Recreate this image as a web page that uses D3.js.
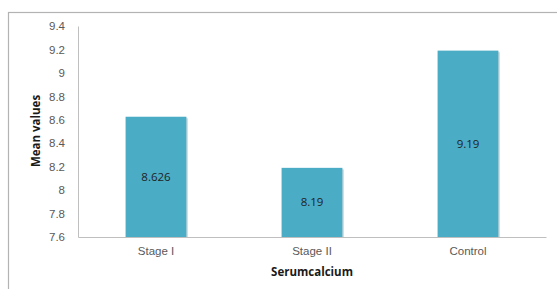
<!DOCTYPE html>
<html>
<head>
<meta charset="utf-8">
<script src="https://cdn.jsdelivr.net/npm/d3@7"></script>
<style>
  body { margin: 0; background: #fff; }
  svg { display: block; font-family: "Open Sans", sans-serif; }
</style>
</head>
<body>
<div id="chart"></div>
<script>
var categories = ["Stage I", "Stage II", "Control"];
var meanValues = [8.626, 8.19, 9.19];
var valueLabels = ["8.626", "8.19", "9.19"];
var yTicks = [7.6, 7.8, 8, 8.2, 8.4, 8.6, 8.8, 9, 9.2, 9.4];

var W = 557, H = 289;
var margin = {top: 26, right: 11, bottom: 52, left: 78},
    width = W - margin.left - margin.right,
    height = H - margin.top - margin.bottom;

var svg = d3.select("#chart").append("svg")
    .attr("width", W)
    .attr("height", H);

// outer frame (cropped on right and bottom)
svg.append("rect")
    .attr("x", 8.5).attr("y", 12.5)
    .attr("width", W + 20).attr("height", H + 20)
    .attr("fill", "none")
    .attr("stroke", "#b3b3b3")
    .attr("stroke-width", 1.2);

var g = svg.append("g")
    .attr("transform", "translate(" + margin.left + "," + margin.top + ")");

var x = d3.scaleBand()
    .domain(categories)
    .range([0, width])
    .paddingInner(0.61)
    .paddingOuter(0.305);

var y = d3.scaleLinear()
    .domain([7.6, 9.4])
    .range([height, 0]);

var yAxis = d3.axisLeft(y)
    .tickValues(yTicks)
    .tickSize(0)
    .tickPadding(13)
    .tickFormat(function(d) { return d3.format("")(+d.toFixed(1)); });

var yG = g.append("g").call(yAxis);
yG.select(".domain").attr("stroke", "#bfbfbf");
yG.selectAll("text").attr("fill", "#595959").style("font-size", "11.5px");

var xAxis = d3.axisBottom(x).tickSize(0).tickPadding(10);
var xG = g.append("g")
    .attr("transform", "translate(0," + height + ")")
    .call(xAxis);
xG.select(".domain").attr("stroke", "#bfbfbf");
xG.selectAll("text").attr("fill", "#595959").style("font-size", "11.5px");

// bar shadows
g.selectAll(".shadow")
    .data(meanValues)
  .enter().append("rect")
    .attr("x", function(d, i) { return x(categories[i]) + 1.5; })
    .attr("y", function(d) { return y(d) + 1.5; })
    .attr("width", x.bandwidth())
    .attr("height", function(d) { return height - y(d) - 1.5; })
    .attr("fill", "#d9d9d9");

g.selectAll(".bar")
    .data(meanValues)
  .enter().append("rect")
    .attr("class", "bar")
    .attr("x", function(d, i) { return x(categories[i]); })
    .attr("y", function(d) { return y(d); })
    .attr("width", x.bandwidth())
    .attr("height", function(d) { return height - y(d); })
    .attr("fill", "#4bacc6");

g.selectAll(".val")
    .data(meanValues)
  .enter().append("text")
    .attr("x", function(d, i) { return x(categories[i]) + x.bandwidth() / 2; })
    .attr("y", function(d) { return (y(d) + height) / 2; })
    .attr("dy", "0.35em")
    .attr("text-anchor", "middle")
    .attr("fill", "#1f1f1f")
    .style("font-size", "11.5px")
    .text(function(d, i) { return valueLabels[i]; });

svg.append("text")
    .attr("x", margin.left + width / 2)
    .attr("y", 276)
    .attr("text-anchor", "middle")
    .attr("fill", "#1a1a1a")
    .style("font-size", "11.5px")
    .style("font-weight", "bold")
    .text("Serumcalcium");

svg.append("text")
    .attr("transform", "translate(40,131) rotate(-90)")
    .attr("text-anchor", "middle")
    .attr("fill", "#1a1a1a")
    .style("font-size", "11.5px")
    .style("font-weight", "bold")
    .text("Mean values");
</script>
</body>
</html>
